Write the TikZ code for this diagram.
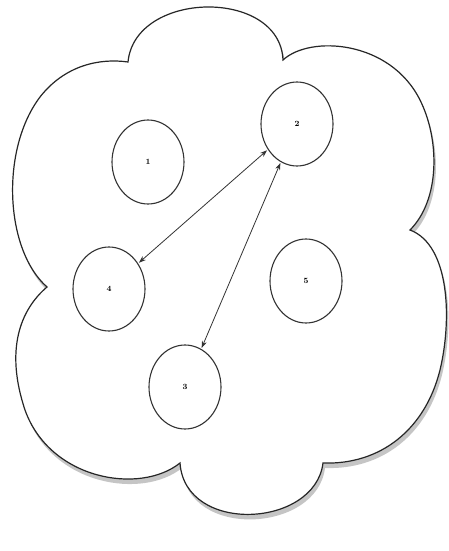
\documentclass[tikz,border=0pt]{standalone}
\usetikzlibrary{shapes.geometric,arrows.meta,shadows}
\begin{document}
\begin{tikzpicture}[x=1pt,y=-1pt,
  bubble/.style={draw=black!80, line width=1.1pt, ellipse, minimum width=72pt, minimum height=84pt, inner sep=0pt, font=\footnotesize\bfseries},
  link/.style={draw=black!80, line width=0.8pt, {Stealth[length=7pt,width=5pt]}-{Stealth[length=7pt,width=5pt]}, shorten <=1pt, shorten >=1pt},
  cloud/.style={draw=black!85, line width=1.2pt, fill=white, drop shadow={shadow xshift=2pt, shadow yshift=-5pt, opacity=0.45}}]
\useasboundingbox[fill=white] (0,0) rectangle (449,551);
\path[cloud]
  (128,62) .. controls (135,-10) and (280,-12) .. (283,60)
  .. controls (310,35) and (390,40) .. (420,100)
  .. controls (440,140) and (440,200) .. (410,230)
  .. controls (450,245) and (452,320) .. (440,370)
  .. controls (425,430) and (380,465) .. (323,463)
  .. controls (315,528) and (185,535) .. (180,463)
  .. controls (140,495) and (50,480) .. (25,410)
  .. controls (5,350) and (20,310) .. (47,287)
  .. controls (5,250) and (0,150) .. (40,97)
  .. controls (65,65) and (100,58) .. (128,62) -- cycle;
\node[bubble] (n1) at (148,162) {1};
\node[bubble] (n2) at (297,124) {2};
\node[bubble] (n4) at (109,289) {4};
\node[bubble] (n5) at (306,281) {5};
\node[bubble] (n3) at (185,387) {3};
\draw[link] (n2) -- (n4);
\draw[link] (n2) -- (n3);
\end{tikzpicture}
\end{document}
